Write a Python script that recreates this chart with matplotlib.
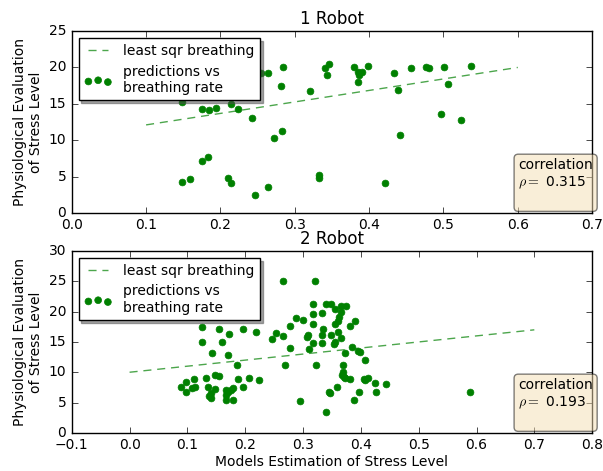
import matplotlib
matplotlib.use("Agg")
import matplotlib.pyplot as plt

plt.style.use('classic')

# ---- Panel 1: 1 Robot ----
x1 = [0.148, 0.159, 0.175, 0.183, 0.210, 0.214, 0.247, 0.264, 0.148, 0.175,
      0.185, 0.194, 0.214, 0.223, 0.243, 0.255, 0.264, 0.284, 0.282, 0.320,
      0.340, 0.346, 0.343, 0.380, 0.385, 0.387, 0.391, 0.385, 0.399, 0.434,
      0.439, 0.272, 0.283, 0.442, 0.333, 0.333, 0.422, 0.456, 0.476, 0.480,
      0.501, 0.537, 0.506, 0.497, 0.524]
y1 = [4.3, 4.7, 7.1, 7.7, 4.8, 4.1, 2.5, 3.6, 15.2, 14.3,
      14.2, 14.4, 15.0, 14.3, 13.1, 19.2, 19.2, 20.1, 17.5, 16.7,
      19.9, 20.5, 18.9, 20.1, 19.4, 19.0, 19.4, 18.0, 20.2, 19.3,
      16.9, 10.3, 11.3, 10.7, 5.2, 4.85, 4.1, 19.9, 20.1, 19.9,
      20.1, 20.2, 17.7, 13.6, 12.8]
fit1_x = [0.1, 0.6]
fit1_y = [12.1, 20.0]
rho1 = 0.315

# ---- Panel 2: 2 Robot ----
x2 = [0.089, 0.097, 0.097, 0.108, 0.114, 0.112, 0.133, 0.147, 0.154, 0.136,
      0.147, 0.141, 0.140, 0.138, 0.166, 0.166, 0.167, 0.171, 0.176, 0.179,
      0.179, 0.187, 0.197, 0.206, 0.223,
      0.126, 0.155, 0.172, 0.196, 0.219, 0.126, 0.159, 0.142, 0.170, 0.186,
      0.246, 0.254, 0.266, 0.278, 0.287, 0.300, 0.278, 0.268, 0.294, 0.265,
      0.320, 0.318, 0.339, 0.349, 0.366, 0.375, 0.356, 0.366, 0.318, 0.332,
      0.362, 0.360, 0.356, 0.389, 0.382, 0.318, 0.334, 0.306, 0.309, 0.333,
      0.349, 0.360, 0.366, 0.317, 0.333, 0.353, 0.356, 0.310, 0.385, 0.372,
      0.395, 0.399, 0.323, 0.369, 0.408, 0.369, 0.367, 0.370, 0.373, 0.382,
      0.405, 0.408, 0.412, 0.424, 0.443, 0.426, 0.359, 0.345, 0.347, 0.396,
      0.388, 0.339, 0.589]
y2 = [7.6, 8.4, 6.8, 7.4, 7.6, 8.9, 9.1, 9.6, 9.4, 7.6,
      7.2, 6.5, 5.7, 6.1, 7.1, 6.3, 5.4, 6.8, 7.1, 7.4,
      5.4, 8.9, 7.5, 9.0, 8.7,
      17.4, 17.2, 16.3, 17.2, 16.7, 15.0, 15.0, 13.2, 12.8, 11.2,
      15.5, 16.4, 16.0, 17.7, 19.0, 18.7, 14.0, 11.2, 5.2, 25.0,
      25.0, 21.2, 21.2, 21.2, 21.0, 21.0, 20.4, 20.0, 19.6, 19.8,
      19.1, 18.4, 18.0, 18.5, 17.7, 18.0, 17.2, 15.8, 16.2, 16.1,
      16.1, 16.6, 15.7, 14.8, 14.8, 14.7, 15.0, 13.9, 14.2, 13.2,
      13.5, 13.4, 11.2, 11.2, 12.0, 10.1, 9.6, 9.2, 9.0, 8.9,
      8.9, 8.7, 9.0, 8.3, 8.1, 6.7, 7.6, 6.7, 6.5, 6.8,
      5.4, 3.5, 6.8]
fit2_x = [0.0, 0.7]
fit2_y = [10.0, 17.0]
rho2 = 0.193

titles = ["1 Robot", "2 Robot"]
xlims = [(0.0, 0.7), (-0.1, 0.8)]
ylims = [(0, 25), (0, 30)]

plt.rcParams['font.size'] = 10
plt.rcParams['legend.fontsize'] = 10
plt.rcParams['xtick.labelsize'] = 10
plt.rcParams['ytick.labelsize'] = 10

fig = plt.figure(figsize=(6.03, 4.71), dpi=100, facecolor='white')
ax1 = fig.add_axes([0.119, 0.548, 0.863, 0.386])
ax2 = fig.add_axes([0.119, 0.081, 0.863, 0.386])

panels = [(ax1, x1, y1, fit1_x, fit1_y, rho1), (ax2, x2, y2, fit2_x, fit2_y, rho2)]
props = dict(boxstyle='round', facecolor='wheat', alpha=0.5)
for i, (ax, xs, ys, fx, fy, rho) in enumerate(panels):
    ax.plot(fx, fy, '--', color='g', alpha=0.7, lw=1, dashes=(5.8, 4.2),
            label='least sqr breathing')
    ax.scatter(xs, ys, s=24, c='g', edgecolors='g', linewidths=0.5,
               label='predictions vs\nbreathing rate', zorder=3)
    ax.set_xlim(*xlims[i])
    ax.set_ylim(*ylims[i])
    ax.set_title(titles[i], fontsize=12)
    ax.set_ylabel('Physiological Evaluation\nof Stress Level', fontsize=10, labelpad=4)
    leg = ax.legend(loc='upper left', shadow=True, fontsize=10)
    leg.set_zorder(5)
    ax.text(0.858, 0.30, 'correlation\n$\\rho=$ 0.%03d\n' % round(rho * 1000),
            transform=ax.transAxes, va='top', ha='left', fontsize=10,
            bbox=props, zorder=6, clip_on=False)

ax2.set_xlabel('Models Estimation of Stress Level', fontsize=10, labelpad=2)

fig.savefig('out.png', dpi=100, facecolor='white')
